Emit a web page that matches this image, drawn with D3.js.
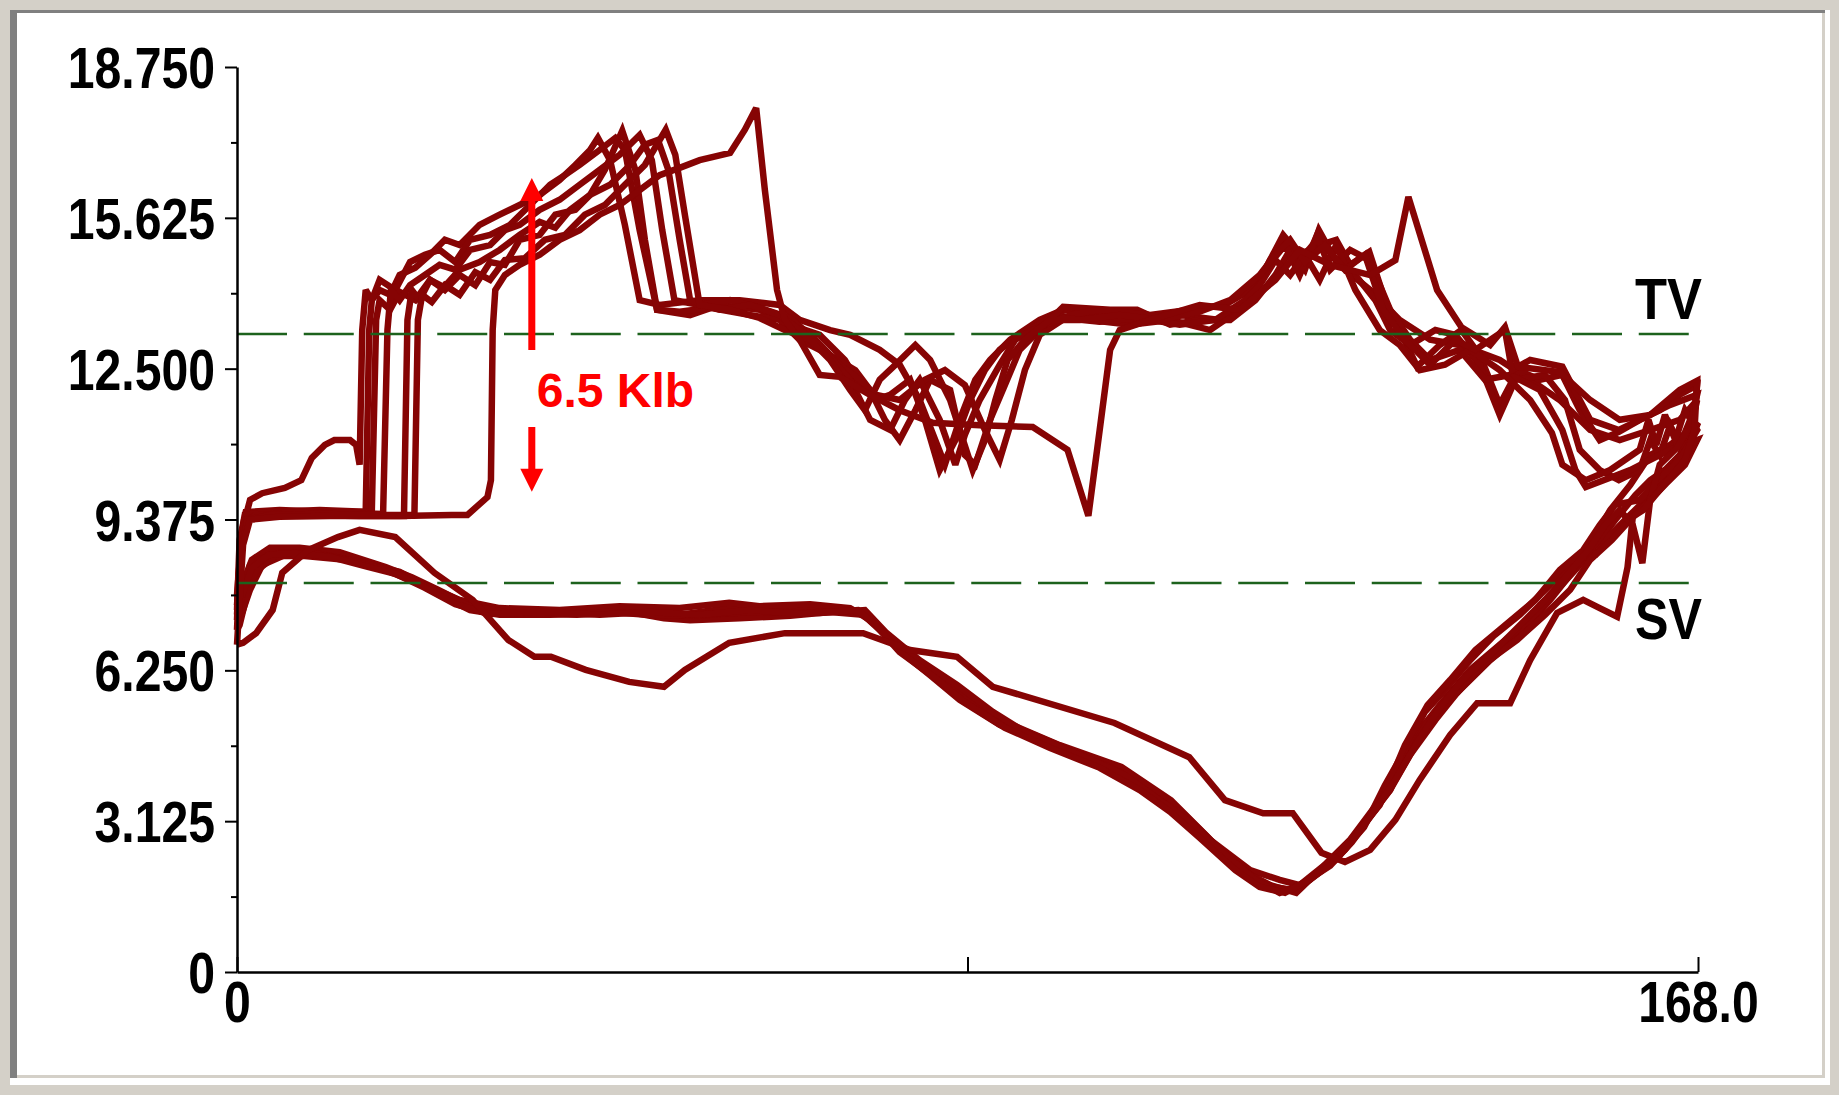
<!DOCTYPE html>
<html>
<head>
<meta charset="utf-8">
<script src="https://cdn.jsdelivr.net/npm/d3@7"></script>
<style>
  html, body { margin: 0; padding: 0; background: #d4d0c8; overflow: hidden; }
  svg { display: block; }
</style>
</head>
<body>
<svg id="chart" width="1839" height="1095"></svg>
<script>
// Axis ticks: load in Klb, polished-rod position in inches
const loadTicks = [0, 3.125, 6.25, 9.375, 12.5, 15.625, 18.75];
const positionTicks = [0, 84, 168];

// Valve check loads (Klb)
const tvLoad = 13.22;
const svLoad = 8.06;

// Load span marked by the red arrows (Klb)
const spanTop = 16.45;
const spanBottom = 9.95;
const spanPosition = 33.9;

// Surface dynamometer strokes: [position (in), load (Klb)], upstroke then downstroke
const stroke1 = [
  [0,7.50],[0.3,8.95],[1.0,9.53],[4.9,9.57],[10.7,9.53],[14.8,9.53],[15.2,13.30],[15.5,13.92],[16.4,14.13],[17.6,14.03],[18.7,14.44],[20.5,14.59],[22.2,14.86],[23.9,15.17],[25.6,15.06],[27.9,15.48],[30.2,15.69],[32.5,15.89],[34.8,16.10],[37.1,16.41],[38.9,16.72],[40.6,17.03],[41.5,17.28],[42.9,16.82],[44.6,15.48],[46.3,13.92],[48.6,13.82],[53.2,13.92],[57.8,13.92],[62.4,13.82],[64.7,13.51],[68.2,13.30],[70.5,13.20],[73.9,12.89],[76.2,12.58],[78.5,11.85],[80.3,11.02],[81.4,10.51],[83.1,11.44],[84.9,12.27],[86.6,12.68],[88.9,13.10],[92.3,13.51],[95.0,13.72],[99.2,13.61],[103.8,13.51],[108.4,13.61],[113.0,13.51],[116.5,13.92],[118.8,14.75],[120.5,15.17],[122.2,14.75],[124.4,15.21],[126.8,14.65],[130.3,14.13],[133.7,13.51],[137.2,13.10],[140.6,12.99],[145.2,12.68],[148.7,12.27],[152.1,11.85],[155.6,11.23],[159.0,11.02],[162.5,11.23],[165.9,11.44],[167.9,11.85],
  [167.1,11.23],[164.8,10.92],[162.5,10.71],[160.2,10.09],[157.9,9.57],[155.6,8.85],[153.3,8.23],[151.0,7.71],[147.5,6.98],[144.1,6.46],[140.6,5.84],[137.2,5.22],[134.9,4.70],[132.6,3.77],[129.1,2.94],[125.7,2.22],[122.2,1.80],[119.9,1.91],[116.5,2.11],[111.9,2.74],[108.4,3.36],[105.0,3.77],[101.5,4.19],[95.8,4.60],[88.9,5.12],[83.1,5.84],[78.5,6.36],[75.1,6.88],[72.3,7.46],[69.3,7.54],[62.4,7.50],[56.7,7.54],[50.9,7.40],[46.3,7.46],[41.7,7.50],[37.1,7.46],[30.2,7.46],[25.6,7.60],[22.2,7.96],[18.7,8.29],[15.3,8.43],[11.8,8.64],[7.2,8.74],[3.8,8.70],[1.5,8.43],[0.6,7.92],[0,7.50]
];
const stroke2 = [
  [0,7.81],[0.6,9.16],[1.5,9.78],[2.9,9.92],[5.5,10.03],[7.4,10.19],[8.6,10.65],[10.1,10.92],[11.2,11.02],[13.0,11.02],[13.7,10.92],[14.1,10.51],[14.4,13.30],[14.8,14.13],[15.5,13.92],[16.4,14.34],[18.2,14.13],[19.9,14.71],[21.6,14.86],[23.3,14.96],[25.1,14.71],[26.8,15.17],[29.1,15.27],[31.4,15.48],[33.7,15.89],[36.0,16.31],[37.7,16.51],[39.4,16.72],[41.7,17.03],[43.5,17.28],[44.6,17.03],[46.3,15.37],[48.3,13.72],[52.1,13.61],[55.5,13.82],[60.1,13.72],[63.6,13.41],[67.0,13.20],[69.9,12.68],[71.6,12.16],[73.4,11.85],[75.1,11.96],[77.4,12.27],[79.1,11.44],[80.8,10.40],[82.6,11.02],[84.3,11.85],[86.0,12.47],[87.7,12.89],[90.0,13.20],[94.1,13.61],[98.1,13.51],[102.7,13.41],[107.3,13.51],[111.9,13.30],[115.3,13.72],[117.6,14.34],[120.3,15.27],[122.2,14.86],[124.5,15.06],[126.4,15.17],[128.0,14.65],[130.2,14.92],[132.0,13.92],[133.7,13.30],[135.7,12.54],[138.3,12.99],[140.8,13.30],[142.9,12.78],[145.2,11.75],[147.3,12.47],[149.8,12.27],[152.4,12.37],[154.4,11.64],[156.7,11.02],[158.9,11.19],[161.3,11.44],[163.6,11.64],[165.9,11.96],[167.9,12.16],
  [167.4,11.23],[165.9,10.71],[164.2,10.40],[162.5,10.19],[160.8,9.88],[158.5,9.37],[156.7,8.95],[154.4,8.43],[151.8,7.92],[148.7,7.29],[145.2,6.78],[141.8,6.26],[138.3,5.53],[136.0,5.01],[133.7,4.39],[131.4,3.56],[128.0,2.74],[124.5,2.11],[121.8,1.64],[118.8,1.80],[115.3,2.11],[111.6,2.80],[107.4,3.56],[101.7,4.25],[94.6,4.70],[88.6,5.16],[85.4,5.53],[80.8,6.05],[77.4,6.51],[73.9,7.09],[72.0,7.40],[68.2,7.46],[63.6,7.38],[57.8,7.33],[52.1,7.29],[49.1,7.33],[45.1,7.46],[39.1,7.40],[32.5,7.42],[28.2,7.46],[23.1,7.92],[20.1,8.18],[17.1,8.39],[11.8,8.70],[7.2,8.79],[3.8,8.79],[1.7,8.54],[0.8,8.12],[0,7.81]
];
const stroke3 = [
  [0,7.60],[0.5,8.95],[0.9,9.47],[3.8,9.53],[9.5,9.57],[15.5,9.53],[16.0,13.51],[16.4,13.92],[17.6,13.72],[18.7,14.09],[20.5,13.92],[22.2,14.34],[23.8,14.19],[25.6,14.55],[27.9,14.71],[30.2,14.96],[32.5,15.27],[34.8,15.54],[36.6,15.42],[38.3,15.79],[40.6,16.10],[42.3,16.62],[44.3,17.43],[45.8,16.62],[46.9,15.17],[48.3,13.72],[50.9,13.68],[54.4,13.76],[59.0,13.61],[62.4,13.51],[64.7,13.10],[68.2,12.78],[71.1,12.47],[72.8,12.06],[74.5,11.44],[76.2,11.02],[78.0,11.64],[79.7,12.27],[82.0,12.06],[83.7,10.71],[84.9,10.51],[86.6,11.44],[88.3,12.16],[90.0,12.89],[92.3,13.30],[95.0,13.78],[100.4,13.72],[103.5,13.72],[107.3,13.41],[110.7,13.51],[114.2,13.51],[117.1,13.92],[119.4,14.44],[121.1,14.96],[122.8,14.55],[124.4,15.37],[126.3,14.75],[128.6,14.44],[130.9,13.92],[132.6,13.30],[134.9,12.99],[137.8,13.30],[140.1,13.20],[142.9,12.58],[145.2,11.54],[147.0,12.27],[150.4,12.37],[152.7,11.85],[154.4,10.82],[156.7,10.40],[158.9,10.19],[161.3,10.40],[162.5,11.02],[163.6,10.71],[164.8,11.33],[165.9,10.92],[167.1,11.44],[167.9,11.33],
  [166.9,10.92],[164.8,10.40],[162.5,9.88],[160.2,9.47],[157.9,9.05],[156.2,8.64],[153.9,8.54],[151.0,8.02],[147.5,7.40],[144.6,6.98],[141.8,6.46],[138.9,5.84],[136.6,5.39],[134.3,4.60],[132.0,3.87],[129.6,3.00],[126.3,2.32],[123.4,1.91],[121.1,1.70],[118.2,1.80],[114.2,2.32],[110.7,2.94],[106.7,3.46],[101.5,4.14],[93.5,4.70],[87.7,5.12],[83.1,5.64],[79.7,6.15],[76.8,6.57],[73.9,7.13],[71.6,7.46],[64.7,7.50],[57.8,7.46],[53.2,7.38],[47.5,7.42],[41.7,7.46],[36.0,7.40],[30.2,7.40],[26.8,7.50],[23.3,7.81],[20.5,8.08],[17.0,8.33],[13.0,8.54],[8.4,8.70],[4.9,8.68],[2.4,8.54],[1.3,8.02],[0.3,7.60],[0,7.60]
];
const stroke4 = [
  [0,7.29],[0.3,8.54],[0.8,9.37],[2.6,9.47],[7.2,9.53],[13.0,9.51],[16.8,9.49],[17.3,13.30],[17.7,14.13],[18.7,13.92],[19.9,14.23],[21.6,14.44],[23.3,14.65],[25.1,14.55],[26.8,14.96],[29.1,15.06],[30.8,15.37],[32.5,15.48],[34.8,15.79],[37.1,16.00],[39.4,16.31],[41.7,16.62],[44.0,16.93],[46.3,17.34],[47.7,16.82],[48.9,15.37],[50.3,13.92],[53.2,13.82],[56.7,13.92],[60.1,13.76],[63.6,13.55],[66.5,13.10],[69.3,12.58],[71.6,12.27],[73.4,11.96],[76.2,11.85],[79.1,12.27],[81.4,12.47],[83.7,12.16],[86.0,11.23],[87.7,10.61],[89.1,11.44],[90.6,12.47],[92.3,13.20],[95.8,13.61],[99.2,13.72],[105.0,13.61],[109.6,13.72],[113.6,13.82],[116.5,14.13],[118.2,14.55],[120.5,15.06],[122.2,14.44],[124.2,15.27],[125.7,14.55],[128.0,14.96],[130.2,14.75],[132.6,13.72],[134.9,13.10],[137.2,12.68],[140.6,12.89],[143.5,12.27],[146.4,12.37],[149.8,12.06],[152.4,11.23],[153.9,10.40],[155.1,10.05],[157.9,10.24],[160.2,10.40],[162.5,10.61],[164.8,10.82],[167.9,11.02],
  [166.5,10.51],[164.4,10.13],[162.5,9.78],[160.2,9.37],[158.1,8.95],[155.6,8.54],[153.3,7.92],[150.4,7.40],[147.2,6.88],[143.2,6.36],[140.1,5.74],[137.8,5.22],[134.9,4.50],[132.6,3.77],[130.3,3.25],[127.4,2.53],[124.5,2.07],[121.8,1.70],[119.4,1.74],[116.5,2.01],[112.5,2.63],[109.0,3.25],[105.0,3.67],[100.4,4.25],[94.6,4.64],[88.6,5.12],[84.3,5.64],[80.8,6.15],[76.2,6.71],[72.8,7.29],[70.5,7.54],[65.9,7.62],[60.1,7.58],[56.6,7.65],[50.9,7.54],[44.0,7.58],[37.1,7.50],[30.2,7.54],[25.6,7.71],[21.6,8.02],[18.2,8.29],[14.1,8.50],[9.5,8.64],[5.5,8.64],[2.9,8.43],[1.5,7.92],[0.5,7.40],[0,7.29]
];
const stroke5 = [
  [0,7.09],[0.3,8.33],[0.8,9.26],[2.1,9.47],[7.2,9.47],[14.1,9.45],[19.2,9.45],[19.6,13.51],[20.1,14.13],[21.0,13.92],[22.2,14.34],[23.9,14.13],[25.6,14.44],[27.4,14.23],[29.1,14.71],[30.8,14.65],[32.5,15.17],[34.8,15.27],[36.6,15.69],[38.9,15.79],[40.6,16.10],[42.9,16.31],[45.2,16.72],[46.9,17.14],[48.4,17.24],[49.6,16.62],[50.9,15.17],[52.1,13.92],[55.5,13.72],[59.0,13.82],[62.4,13.61],[64.7,13.30],[67.0,12.99],[70.5,12.27],[72.8,11.44],[75.1,11.23],[76.8,11.85],[78.5,12.27],[80.8,11.44],[82.6,10.51],[83.7,11.13],[85.4,11.85],[87.7,12.58],[89.5,13.10],[91.5,13.30],[95.0,13.55],[99.2,13.47],[103.8,13.55],[108.4,13.41],[112.5,13.51],[115.9,13.92],[117.6,14.23],[119.4,14.75],[121.1,14.44],[122.8,14.86],[124.5,14.34],[126.4,15.06],[128.6,14.13],[131.4,13.30],[133.7,12.99],[136.0,12.47],[138.9,12.58],[141.8,12.89],[145.2,12.47],[148.7,11.85],[151.2,11.17],[152.4,10.51],[155.1,10.19],[157.9,10.40],[161.3,10.82],[162.3,11.44],[163.2,10.92],[164.2,11.54],[165.4,11.02],[166.5,11.64],[167.9,11.23],
  [165.9,10.61],[163.6,10.24],[161.3,9.78],[158.5,9.68],[156.7,9.26],[154.8,8.74],[152.1,8.33],[149.3,7.71],[145.2,7.09],[142.4,6.67],[139.5,6.05],[136.9,5.53],[134.3,4.70],[131.4,3.46],[128.6,2.84],[125.1,2.22],[122.2,1.80],[119.9,1.64],[117.1,1.91],[113.0,2.53],[109.6,3.11],[106.1,3.56],[102.1,4.08],[96.9,4.50],[91.2,4.91],[86.9,5.39],[82.8,5.95],[78.5,6.46],[74.6,7.04],[72.2,7.50],[67.0,7.44],[60.1,7.46],[54.4,7.42],[48.6,7.38],[42.9,7.46],[37.1,7.42],[31.4,7.44],[26.8,7.58],[23.1,7.87],[19.9,8.16],[16.4,8.37],[12.4,8.54],[7.8,8.62],[4.4,8.62],[2.1,8.29],[1.0,7.71],[0.3,7.19],[0,7.09]
];
const stroke6 = [
  [0,7.40],[0.5,8.74],[1.2,9.37],[3.8,9.47],[9.5,9.49],[16.4,9.47],[20.4,9.47],[20.8,13.51],[21.3,14.03],[22.4,13.88],[23.9,14.23],[25.6,14.03],[27.4,14.50],[29.1,14.34],[30.8,14.75],[33.1,14.79],[35.4,15.17],[37.7,15.27],[40.0,15.69],[42.3,15.89],[44.6,16.31],[46.9,16.72],[49.3,17.45],[50.4,16.93],[51.5,15.69],[53.2,13.82],[56.7,13.72],[60.1,13.55],[63.0,13.30],[65.9,13.10],[68.2,12.68],[70.5,12.06],[72.2,11.64],[73.9,12.27],[75.7,12.58],[78.0,12.99],[79.7,12.68],[82.0,11.85],[84.6,10.40],[86.0,11.02],[87.2,11.85],[88.6,12.68],[90.6,13.10],[93.5,13.51],[96.9,13.51],[101.5,13.61],[106.1,13.51],[110.7,13.68],[114.2,13.92],[117.6,14.44],[119.4,14.86],[121.1,15.17],[122.8,14.71],[125.1,15.06],[127.4,14.55],[129.7,14.86],[131.8,13.72],[134.3,13.10],[137.2,12.58],[140.1,13.10],[142.4,12.89],[145.8,13.30],[146.6,12.47],[148.7,12.68],[152.4,12.54],[155.6,11.44],[158.9,11.23],[161.3,11.44],[164.8,11.75],[167.9,11.96],
  [167.1,11.33],[165.6,10.86],[163.6,10.51],[162.5,9.78],[161.6,8.47],[160.5,9.26],[159.0,9.57],[157.3,9.26],[155.6,8.79],[153.3,8.29],[150.4,7.71],[147.0,7.09],[144.1,6.57],[140.9,6.05],[138.0,5.39],[135.9,4.81],[133.2,3.98],[130.9,3.36],[128.2,2.69],[125.7,2.20],[122.8,1.86],[120.5,1.64],[117.6,1.76],[114.8,2.11],[110.7,2.78],[107.3,3.32],[103.8,3.77],[99.2,4.23],[93.5,4.64],[88.3,5.06],[83.7,5.59],[80.3,6.09],[76.2,6.63],[73.4,7.19],[71.4,7.50],[64.7,7.42],[59.0,7.50],[53.2,7.40],[47.5,7.46],[41.7,7.40],[34.8,7.46],[29.1,7.42],[25.1,7.62],[21.6,7.96],[18.2,8.25],[14.7,8.41],[10.7,8.60],[6.7,8.68],[3.6,8.64],[1.7,8.37],[0.7,7.87],[0,7.40]
];
const stroke7 = [
  [0,6.78],[0.3,7.71],[0.7,8.85],[1.5,9.37],[4.9,9.43],[10.7,9.45],[18.7,9.45],[24.7,9.47],[26.5,9.47],[28.8,9.84],[29.2,10.19],[29.4,13.30],[29.7,14.13],[30.8,14.44],[32.5,14.65],[34.8,14.86],[37.1,15.17],[39.4,15.37],[41.7,15.69],[44.0,15.89],[46.3,16.20],[48.6,16.51],[50.9,16.66],[53.2,16.82],[56.7,16.97],[58.4,17.45],[59.7,17.90],[60.7,16.20],[62.1,14.13],[63.0,13.51],[64.7,13.10],[67.0,12.37],[69.3,12.33],[72.4,12.00],[76.2,11.64],[80.0,11.38],[85.4,11.33],[91.5,11.29],[95.5,10.82],[97.9,9.45],[99.2,11.23],[100.4,12.89],[101.5,13.30],[105.0,13.51],[110.7,13.82],[115.3,13.72],[119.4,14.34],[122.2,14.96],[125.7,14.65],[130.3,14.44],[133.2,14.75],[134.7,16.06],[138.0,14.13],[140.8,13.36],[144.1,12.99],[145.8,13.36],[147.3,12.54],[152.1,12.43],[155.6,11.85],[159.0,11.44],[162.5,11.54],[165.9,12.06],[167.9,12.25],
  [167.6,11.23],[166.5,10.61],[164.8,10.24],[163.1,9.88],[161.7,9.57],[160.5,9.43],[159.9,8.39],[158.7,7.36],[156.7,7.54],[154.8,7.71],[151.8,7.44],[148.7,6.46],[146.4,5.57],[142.6,5.57],[139.5,4.91],[136.0,3.98],[133.2,3.15],[130.3,2.53],[127.4,2.28],[124.7,2.47],[121.4,3.29],[118.0,3.29],[113.6,3.56],[109.5,4.45],[100.9,5.16],[86.9,5.91],[82.8,6.53],[77.4,6.67],[72.0,7.02],[63.0,7.02],[56.6,6.82],[51.5,6.26],[49.1,5.91],[45.1,6.01],[40.1,6.26],[36.1,6.53],[34.2,6.53],[31.2,6.88],[27.1,7.71],[22.7,8.27],[18.2,9.01],[14.1,9.16],[11.6,9.01],[8.2,8.74],[5.2,8.27],[4.1,7.50],[2.2,7.02],[0.7,6.82],[0,6.78]
];
const strokes = [stroke1, stroke2, stroke3, stroke4, stroke5, stroke6, stroke7];

const svg = d3.select("#chart");
const W = 1839, H = 1095;

// Sunken window panel
svg.append("rect").attr("x", 0).attr("y", 0).attr("width", W).attr("height", H).attr("fill", "#d4d0c8");
svg.append("rect").attr("x", 10).attr("y", 10).attr("width", 1820).attr("height", 1075).attr("fill", "#ffffff");
svg.append("rect").attr("x", 10).attr("y", 10).attr("width", 1815).attr("height", 1068).attr("fill", "#808080");
svg.append("rect").attr("x", 17).attr("y", 13).attr("width", 1808).attr("height", 1065).attr("fill", "#d4d0c8");
svg.append("rect").attr("x", 17).attr("y", 13).attr("width", 1805).attr("height", 1062).attr("fill", "#ffffff");

const x = d3.scaleLinear().domain([0, 168]).range([237, 1698]);
const y = d3.scaleLinear().domain([0, 18.75]).range([972, 67]);

const FONT = "'Liberation Sans', Arial, Helvetica, sans-serif";

// Narrow bold face for the axis and valve labels
function squeeze(sel, k) {
  sel.each(function () {
    const w = this.getComputedTextLength();
    if (w > 0) {
      this.setAttribute("textLength", (w * k).toFixed(1));
      this.setAttribute("lengthAdjust", "spacingAndGlyphs");
    }
  });
}

// Dyno card strokes
const line = d3.line().x(d => x(d[0])).y(d => y(d[1]));
svg.append("g")
  .selectAll("path")
  .data(strokes)
  .join("path")
  .attr("d", line)
  .attr("fill", "none")
  .attr("stroke", "#860404")
  .attr("stroke-width", 6.5)
  .attr("stroke-linejoin", "miter")
  .attr("stroke-miterlimit", 3);

// Valve check load lines
const valves = [{ load: tvLoad, name: "TV", dy: -15 }, { load: svLoad, name: "SV", dy: 56 }];
svg.append("g")
  .selectAll("line")
  .data(valves)
  .join("line")
  .attr("x1", x(0)).attr("x2", x(168))
  .attr("y1", d => y(d.load)).attr("y2", d => y(d.load))
  .attr("stroke", "#1d621d")
  .attr("stroke-width", 2.5)
  .attr("stroke-dasharray", "50,16.75");

svg.append("g")
  .selectAll("text")
  .data(valves)
  .join("text")
  .attr("x", x(168) - 63)
  .attr("y", d => y(d.load) + d.dy)
  .attr("font-family", FONT)
  .attr("font-weight", "bold")
  .attr("font-size", 57)
  .attr("fill", "#000")
  .attr("textLength", 67)
  .attr("lengthAdjust", "spacingAndGlyphs")
  .text(d => d.name);

// Y axis
const fmtLoad = v => (v === 0 ? "0" : d3.format(".3f")(v));
const yAxisG = svg.append("g")
  .attr("transform", `translate(${x(0)},0)`)
  .call(d3.axisLeft(y).tickValues(loadTicks).tickSizeInner(12).tickSizeOuter(0).tickPadding(10).tickFormat(fmtLoad));

const minorTicks = d3.pairs(loadTicks).map(([a, b]) => (a + b) / 2);
const yMinorG = svg.append("g")
  .attr("transform", `translate(${x(0)},0)`)
  .call(d3.axisLeft(y).tickValues(minorTicks).tickSizeInner(6).tickSizeOuter(0).tickFormat(""));
yMinorG.select(".domain").remove();

// X axis
const fmtPos = v => (v === 0 ? "0" : v === 168 ? d3.format(".1f")(v) : "");
const xAxisG = svg.append("g")
  .attr("transform", `translate(0,${y(0)})`)
  .call(d3.axisBottom(x).tickValues(positionTicks).tickSizeInner(-15).tickSizeOuter(0).tickPadding(10).tickFormat(fmtPos));

[yAxisG, yMinorG, xAxisG].forEach(g => {
  g.selectAll(".domain").attr("stroke", "#000").attr("stroke-width", 2.5);
  g.selectAll(".tick line").attr("stroke", "#000").attr("stroke-width", 2);
  g.selectAll("text")
    .attr("font-family", FONT)
    .attr("font-weight", "bold")
    .attr("font-size", 57)
    .attr("fill", "#000");
});
yAxisG.selectAll("text").attr("dy", "0.36em");
squeeze(yAxisG.selectAll("text"), 0.845);
squeeze(xAxisG.selectAll("text"), 0.845);

// Load span annotation
const ax = x(spanPosition);
const yTop = y(spanTop), yBot = y(spanBottom);
const labelBase = 407;
const head = 23, halfHead = 11.5, shaft = 7;
const anno = svg.append("g").attr("fill", "#ff0000");
anno.append("rect").attr("x", ax - shaft / 2).attr("y", yTop + head - 1).attr("width", shaft).attr("height", (labelBase - 57) - (yTop + head - 1));
anno.append("path").attr("d", `M${ax},${yTop}L${ax - halfHead},${yTop + head}L${ax + halfHead},${yTop + head}Z`);
anno.append("rect").attr("x", ax - shaft / 2).attr("y", labelBase + 20).attr("width", shaft).attr("height", (yBot - head + 1) - (labelBase + 20));
anno.append("path").attr("d", `M${ax},${yBot}L${ax - halfHead},${yBot - head}L${ax + halfHead},${yBot - head}Z`);
anno.append("text")
  .attr("x", ax + 5)
  .attr("y", labelBase)
  .attr("font-family", FONT)
  .attr("font-weight", "bold")
  .attr("font-size", 48)
  .text(`${d3.format(".1f")(spanTop - spanBottom)} Klb`);
</script>
</body>
</html>
